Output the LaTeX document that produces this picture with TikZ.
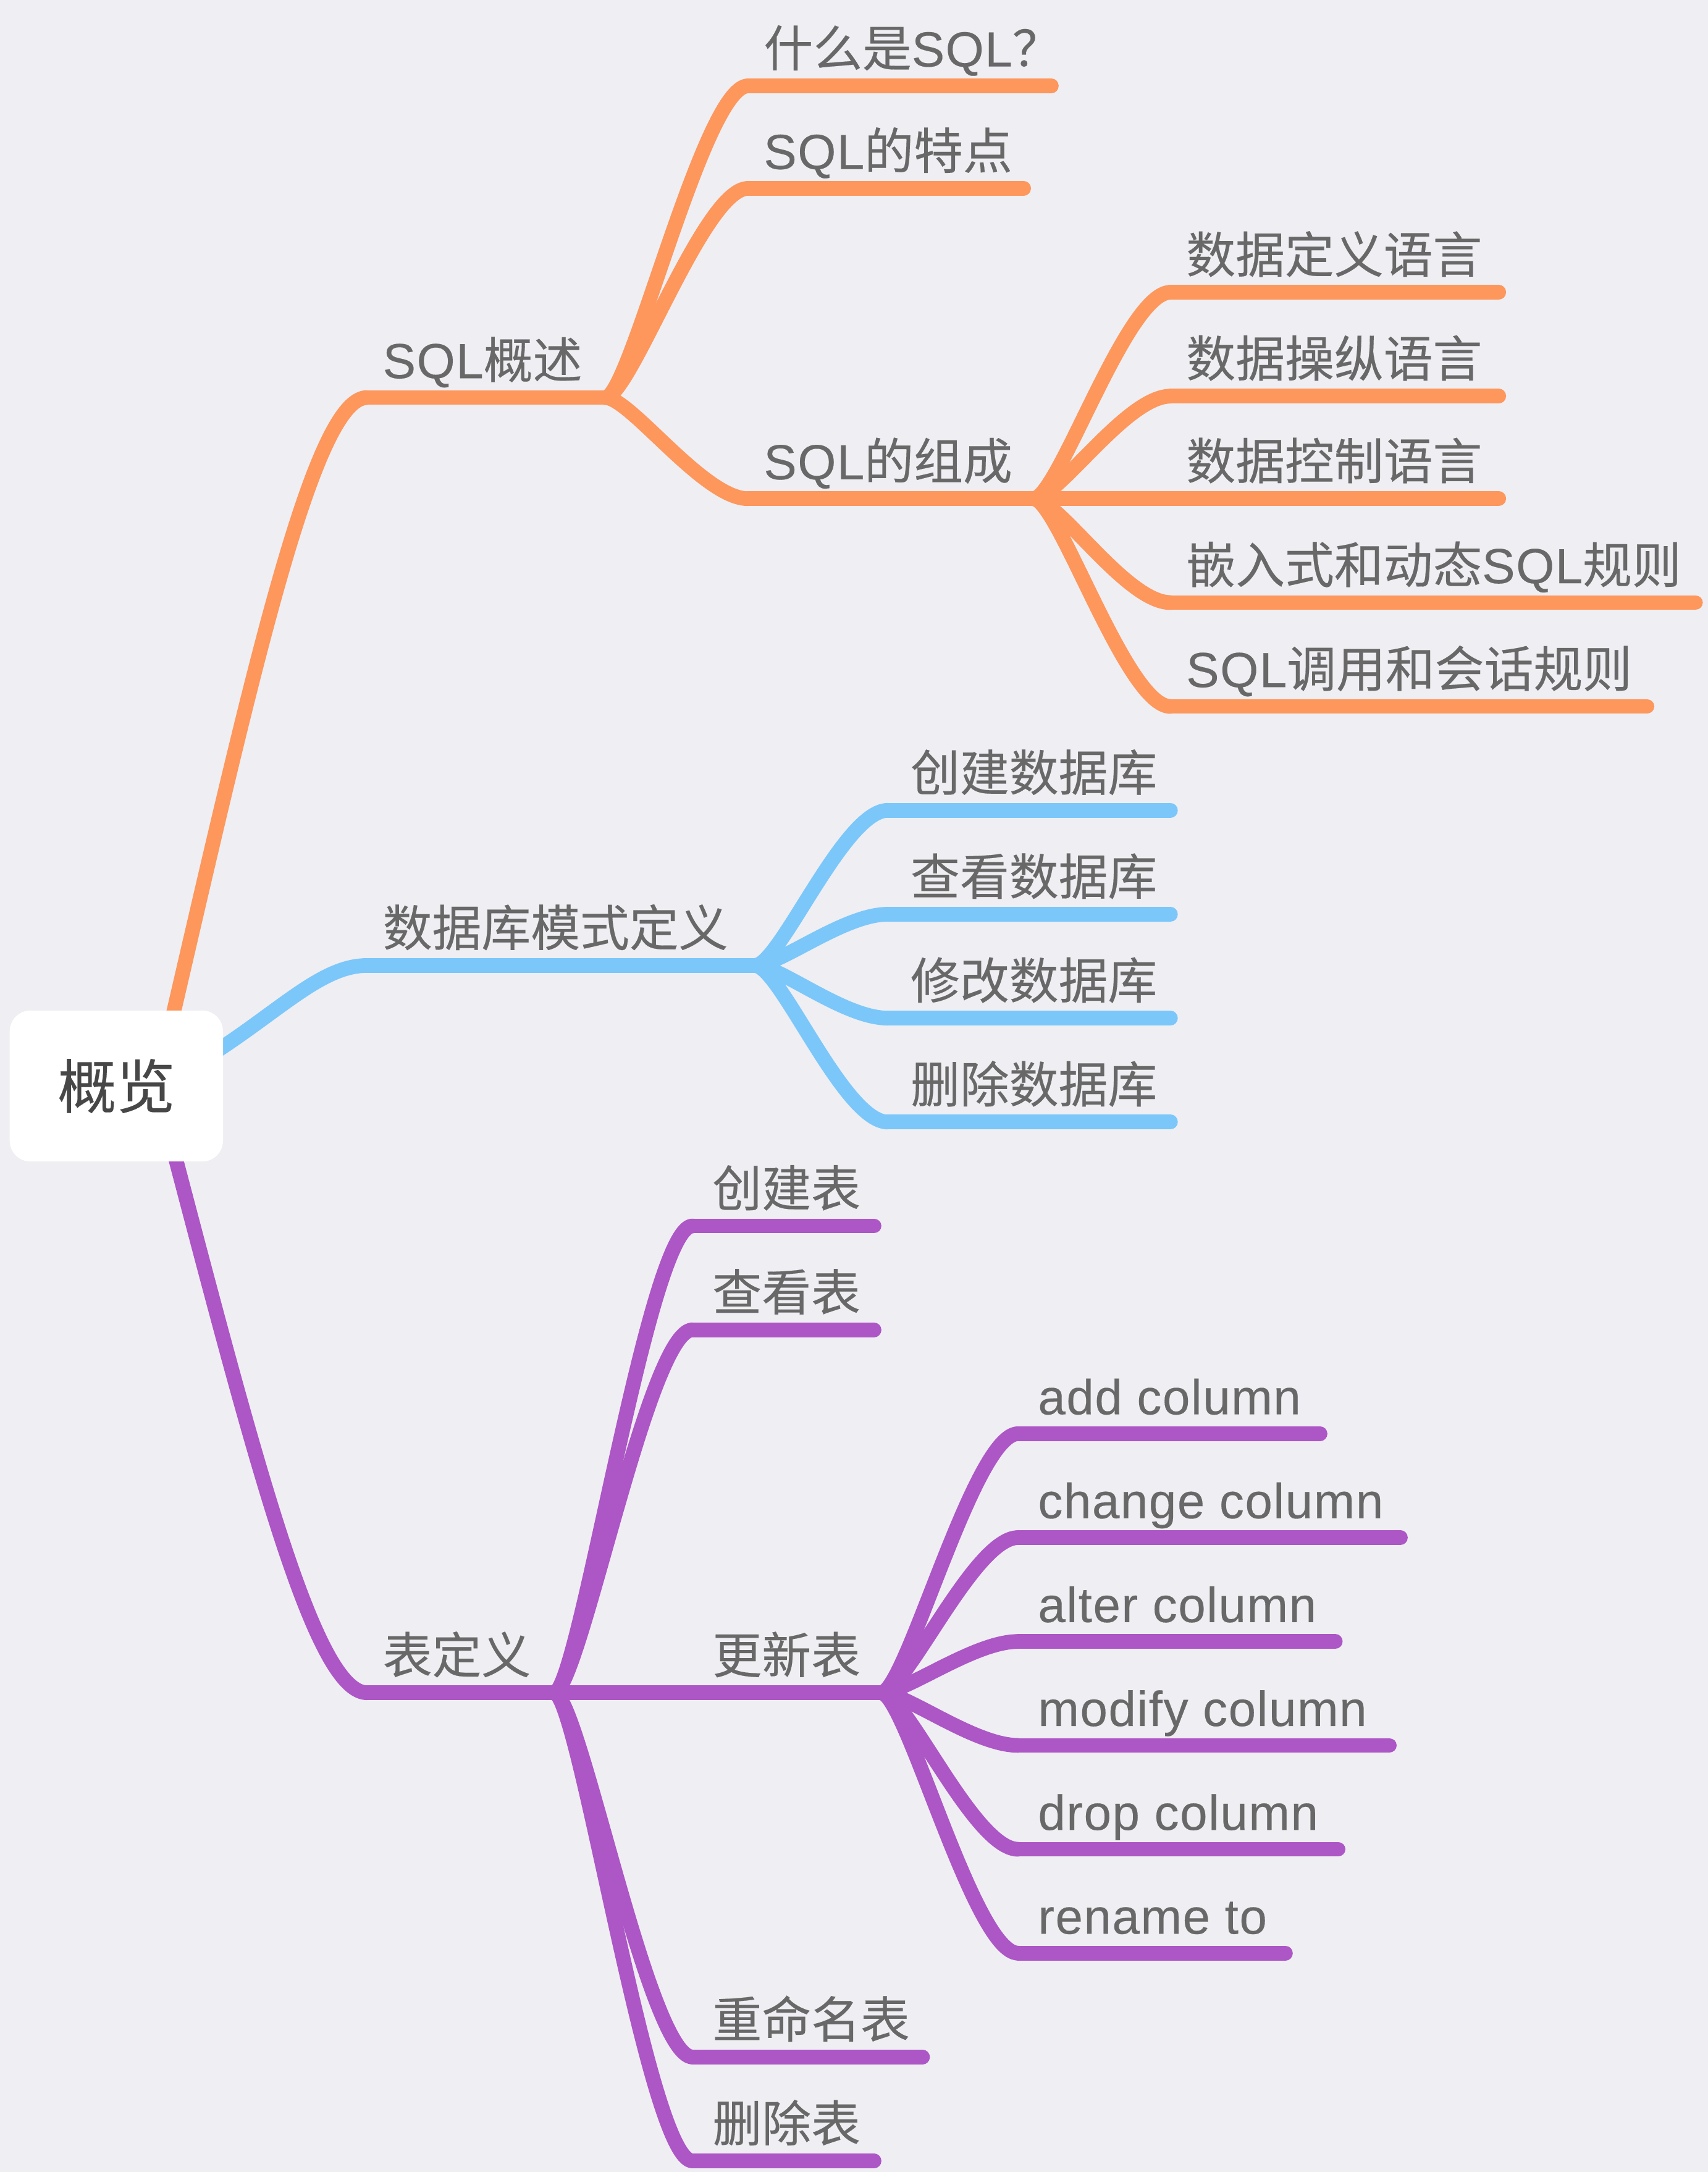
\documentclass[tikz,border=0pt]{standalone}
\usepackage{fontspec}
\setmainfont[LetterSpace=2,FakeBold=0.25]{Liberation Sans}
\newfontfamily\cjk[FakeBold=0.25]{Noto Sans CJK SC}
\definecolor{bg}{HTML}{EEEEF3}
\definecolor{org}{HTML}{FD975C}
\definecolor{blu}{HTML}{7BC7FA}
\definecolor{pur}{HTML}{AD56C6}
\definecolor{txt}{HTML}{686868}
\definecolor{roottxt}{HTML}{474747}
\begin{document}
\begin{tikzpicture}[x=0.5pt,y=-0.5pt,
  br/.style={line width=5.3pt,line cap=round,line join=round},
  ob/.style={br,draw=org},
  bb/.style={br,draw=blu},
  pb/.style={br,draw=pur},
  kid/.style={controls={+(18,0) and +(-32,0)}},
  lbl/.style={anchor=base west,inner sep=0pt,text=txt,font=\fontsize{17.8pt}{20pt}\selectfont,xshift=5.5pt,yshift=7pt},
  lblb/.style={lbl,xshift=2.5pt},
  lblc/.style={lbl,xshift=1.5pt},
  rootbox/.style={fill=white,rounded corners=7.5pt,minimum width=77pt,minimum height=54.5pt,inner sep=0pt,text=roottxt,font=\fontsize{21.2pt}{24pt}\selectfont\cjk}]
\useasboundingbox (0,0) rectangle (1233,1568);
\fill[bg] (0,0) rectangle (1233,1568);

% ---------- coordinates ----------
\coordinate (rc) at (113,784);
% SQL概述 branch
\coordinate (A) at (265,287);   \coordinate (Ae) at (437,287);
\coordinate (A1) at (540,62);   \coordinate (A1e) at (759,62);
\coordinate (A2) at (540,136);  \coordinate (A2e) at (739,136);
\coordinate (A3) at (540,360);  \coordinate (A3e) at (746,360);
\coordinate (A31) at (845,211); \coordinate (A31e) at (1082,211);
\coordinate (A32) at (845,286); \coordinate (A32e) at (1082,286);
\coordinate (A33) at (845,360); \coordinate (A33e) at (1082,360);
\coordinate (A34) at (845,435); \coordinate (A34e) at (1224,435);
\coordinate (A35) at (845,510); \coordinate (A35e) at (1189,510);
% 数据库模式定义 branch
\coordinate (B) at (265,697);   \coordinate (Be) at (545,697);
\coordinate (B1) at (641,585);  \coordinate (B1e) at (845,585);
\coordinate (B2) at (641,660);  \coordinate (B2e) at (845,660);
\coordinate (B3) at (641,735);  \coordinate (B3e) at (845,735);
\coordinate (B4) at (641,810);  \coordinate (B4e) at (845,810);
% 表定义 branch
\coordinate (C) at (265,1222);  \coordinate (Ce) at (400,1222);
\coordinate (C1) at (500,885);  \coordinate (C1e) at (631,885);
\coordinate (C2) at (500,960);  \coordinate (C2e) at (631,960);
\coordinate (C3) at (500,1222); \coordinate (C3e) at (636,1222);
\coordinate (C4) at (500,1485); \coordinate (C4e) at (666,1485);
\coordinate (C5) at (500,1560); \coordinate (C5e) at (631,1560);
\coordinate (C31) at (735,1035); \coordinate (C31e) at (953,1035);
\coordinate (C32) at (735,1110); \coordinate (C32e) at (1011,1110);
\coordinate (C33) at (735,1185); \coordinate (C33e) at (964,1185);
\coordinate (C34) at (735,1260); \coordinate (C34e) at (1003,1260);
\coordinate (C35) at (735,1335); \coordinate (C35e) at (966,1335);
\coordinate (C36) at (735,1410); \coordinate (C36e) at (928,1410);

% ---------- root connectors ----------
\draw[ob] (rc) .. controls +(66,-284) and +(-40,0) .. (A);
\draw[bb] (rc) .. controls +(77,-39) and +(-40,0) .. (B);
\draw[pb] (rc) .. controls +(66,250) and +(-40,0) .. (C);

% ---------- orange ----------
\draw[ob] (A) -- (Ae);
\foreach \k in {A1,A2,A3}{\draw[ob] (Ae) .. controls +(18,0) and +(-32,0) .. (\k);}
\foreach \k in {A1,A2,A3}{\draw[ob] (\k) -- (\k e);}
\foreach \k in {A31,A32,A33,A34,A35}{\draw[ob] (A3e) .. controls +(18,0) and +(-32,0) .. (\k);}
\foreach \k in {A31,A32,A33,A34,A35}{\draw[ob] (\k) -- (\k e);}

% ---------- blue ----------
\draw[bb] (B) -- (Be);
\foreach \k in {B1,B2,B3,B4}{\draw[bb] (Be) .. controls +(18,0) and +(-32,0) .. (\k);}
\foreach \k in {B1,B2,B3,B4}{\draw[bb] (\k) -- (\k e);}

% ---------- purple ----------
\draw[pb] (C) -- (Ce);
\foreach \k in {C1,C2,C3,C4,C5}{\draw[pb] (Ce) .. controls +(18,0) and +(-32,0) .. (\k);}
\foreach \k in {C1,C2,C3,C4,C5}{\draw[pb] (\k) -- (\k e);}
\foreach \k in {C31,C32,C33,C34,C35,C36}{\draw[pb] (C3e) .. controls +(18,0) and +(-32,0) .. (\k);}
\foreach \k in {C31,C32,C33,C34,C35,C36}{\draw[pb] (\k) -- (\k e);}

% ---------- root ----------
\node[rootbox] (root) at (84,784) {概览};

% ---------- labels ----------
\node[lbl] (At) at (A) {SQL{\cjk 概述}};
\node[lbl] (A1t) at (A1) {{\cjk 什么是}SQL{\cjk ？}};
\node[lbl] (A2t) at (A2) {SQL{\cjk 的特点}};
\node[lbl] (A3t) at (A3) {SQL{\cjk 的组成}};
\node[lbl] (A31t) at (A31) {{\cjk 数据定义语言}};
\node[lbl] (A32t) at (A32) {{\cjk 数据操纵语言}};
\node[lbl] (A33t) at (A33) {{\cjk 数据控制语言}};
\node[lbl] (A34t) at (A34) {{\cjk 嵌入式和动态}SQL{\cjk 规则}};
\node[lbl] (A35t) at (A35) {SQL{\cjk 调用和会话规则}};

\node[lbl] (Bt) at (B) {{\cjk 数据库模式定义}};
\node[lblb] (B1t) at (B1) {{\cjk 创建数据库}};
\node[lblb] (B2t) at (B2) {{\cjk 查看数据库}};
\node[lblb] (B3t) at (B3) {{\cjk 修改数据库}};
\node[lblb] (B4t) at (B4) {{\cjk 删除数据库}};

\node[lbl] (Ct) at (C) {{\cjk 表定义}};
\node[lblc] (C1t) at (C1) {{\cjk 创建表}};
\node[lblc] (C2t) at (C2) {{\cjk 查看表}};
\node[lblc] (C3t) at (C3) {{\cjk 更新表}};
\node[lblc] (C4t) at (C4) {{\cjk 重命名表}};
\node[lblc] (C5t) at (C5) {{\cjk 删除表}};
\node[lblc] (C31t) at (C31) {add column};
\node[lblc] (C32t) at (C32) {change column};
\node[lblc] (C33t) at (C33) {alter column};
\node[lblc] (C34t) at (C34) {modify column};
\node[lblc] (C35t) at (C35) {drop column};
\node[lblc] (C36t) at (C36) {rename to};
\end{tikzpicture}
\end{document}
